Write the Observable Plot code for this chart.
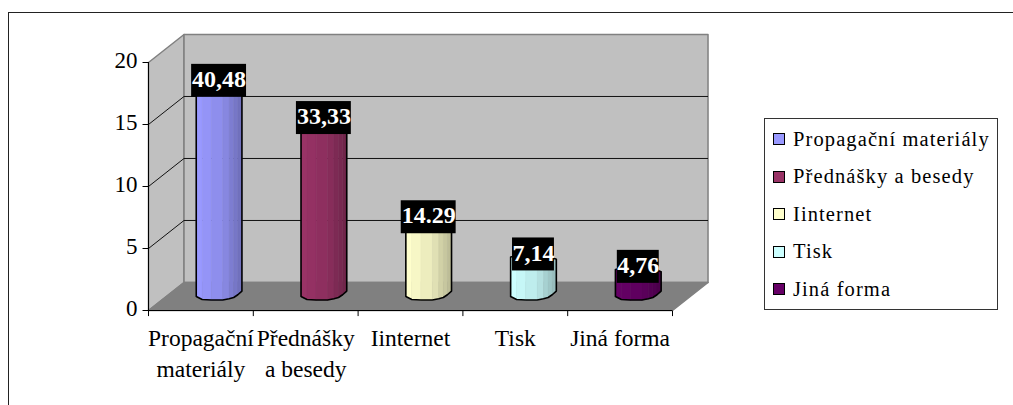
<!DOCTYPE html>
<html><head><meta charset="utf-8">
<script src="https://cdn.jsdelivr.net/npm/d3@7"></script>
<script src="https://cdn.jsdelivr.net/npm/@observablehq/plot@0.6"></script>
<style>
html,body{margin:0;padding:0;background:#fff}
#wrap{position:relative;width:1013px;height:405px;overflow:hidden;font-family:"Liberation Serif",serif}
#edge{position:absolute;left:8px;top:12px;right:0;bottom:0;border-top:1.5px solid #222;border-left:1.5px solid #222;box-sizing:border-box}
#legend{position:absolute;left:764px;top:118px;width:234px;height:192px;border:1px solid #333;box-sizing:border-box;background:#fff}
.row{position:absolute;left:8px;height:22px;display:flex;align-items:center;font-size:20.5px;letter-spacing:1.1px;color:#000;white-space:nowrap}
.sw{display:inline-block;width:10px;height:10px;border:1.5px solid #000;margin-right:8px}
svg{position:absolute;left:0;top:0;background:transparent!important}
</style></head><body>
<div id="wrap"><div id="edge"></div><div id="chart"></div><div id="legend"></div></div>
<script>
const categories = ["Propagační materiály","Přednášky a besedy","Iinternet","Tisk","Jiná forma"];
const axisLabels = ["Propagační\nmateriály","Přednášky\na besedy","Iinternet","Tisk","Jiná forma"];
const values = [17,14,6,3,2];
const valueLabels = ["40,48","33,33","14.29","7,14","4,76"];
const colors = ["#9999ff","#993366","#ffffcc","#ccffff","#660066"];
const yTicks = [0,5,10,15,20];
const grid = [5,10,15];

// Oblique projection of the box, in data units
const depthX = 0.339, depthY = 2.26;
const maxV = 20, n = 5;
const poly = (pts, id) => pts.map(([x,y]) => ({x,y,id}));
const backWall = poly([[depthX,depthY],[n+depthX,depthY],[n+depthX,maxV+depthY],[depthX,maxV+depthY],[depthX,depthY]],"b");
const sideWall = poly([[0,0],[depthX,depthY],[depthX,maxV+depthY],[0,maxV],[0,0]],"s");
const floor = poly([[0,0],[n,0],[n+depthX,depthY],[depthX,depthY],[0,0]],"f");

// Cylinder facets: across-width fraction, shade, and base curve
const facetU = [0,.13,.33,.58,.72,.82,.91,1];
const facetShade = [1,.97,.93,.88,.82,.78,.74];
const baseCurve = [.28,.04,0,0,.1,.2,.42,.72];
const halfW = 0.218, baseY = .85, topY = 1.42;
const shade = (c,k) => { const r = d3.rgb(c); return d3.rgb(r.r*k,r.g*k,r.b*k).formatHex(); };
const bars = values.map((v,i) => ({v,i,cx:i+.5+depthX/2+.004,c:colors[i],label:valueLabels[i]}));
const edgeX = (b,j) => b.cx-halfW+2*halfW*facetU[j];
const botAt = j => baseY+baseCurve[j];
const topAt = (b,j) => b.v+topY-baseCurve[j]*.4;
const facets = bars.flatMap(b => facetShade.flatMap((k,j) =>
  poly([[edgeX(b,j),botAt(j)],[edgeX(b,j+1),botAt(j+1)],[edgeX(b,j+1),topAt(b,j+1)],[edgeX(b,j),topAt(b,j)],[edgeX(b,j),botAt(j)]],`${b.i}-${j}`)
    .map(p=>({...p,fill:shade(b.c,k)}))));
const outlines = bars.flatMap(b => {
  const bot = facetU.map((u,j)=>[edgeX(b,j),botAt(j)]);
  const top = facetU.map((u,j)=>[edgeX(b,j),topAt(b,j)]).reverse();
  return poly([...bot,...top,bot[0]],`o${b.i}`);
});
// Label boxes (data units)
const boxes = bars.map(b => {
  const w = b.label.length===5 ? .262 : .2;
  const mid = b.v+1.52;
  return {x1:b.cx-w, x2:b.cx+w, y1:mid-1.33, y2:mid+1.33, mid, label:b.label, cx:b.cx};
});
const chart = Plot.plot({
  width:1013,height:405,
  marginLeft:148,marginRight:341,marginTop:62,marginBottom:95,
  x:{domain:[0,n],axis:null},
  y:{domain:[0,maxV],axis:null},
  style:{background:"transparent",fontFamily:"Liberation Serif, serif"},
  marks:[
    Plot.line(sideWall,{x:"x",y:"y",z:"id",fill:"#c0c0c0",stroke:"#808080",strokeWidth:1.5}),
    Plot.line(backWall,{x:"x",y:"y",z:"id",fill:"#c0c0c0",stroke:"#808080",strokeWidth:1.5}),
    Plot.line(floor,{x:"x",y:"y",z:"id",fill:"#808080",stroke:"#808080"}),
    Plot.link(grid,{x1:depthX,x2:n+depthX,y1:d=>d+depthY,y2:d=>d+depthY,stroke:"#111",strokeWidth:1}),
    Plot.link(grid,{x1:0,x2:depthX,y1:d=>d,y2:d=>d+depthY,stroke:"#111",strokeWidth:1}),
    Plot.ruleX([0],{y1:0,y2:maxV,stroke:"#000"}),
    Plot.ruleY([0],{x1:0,x2:n,stroke:"#000",strokeWidth:1.2}),
    Plot.link(yTicks,{x1:-.057,x2:0,y1:d=>d,y2:d=>d,stroke:"#000"}),
    Plot.axisY({ticks:yTicks,tickSize:0,tickPadding:11,dy:-1.5,fontSize:23,label:null,fill:"#000"}),
    Plot.link(d3.range(n+1),{x1:d=>d,x2:d=>d,y1:0,y2:-.45,stroke:"#000"}),
    Plot.line(facets,{x:"x",y:"y",z:"id",fill:"fill",stroke:"fill",strokeWidth:.5}),
    Plot.line(outlines,{x:"x",y:"y",z:"id",stroke:"#000",strokeWidth:1.6}),
    Plot.rect(boxes,{x1:"x1",x2:"x2",y1:"y1",y2:"y2",fill:"#000"}),
    Plot.text(boxes,{x:"cx",y:"mid",dy:-1.5,text:"label",fill:"#fff",fontWeight:"bold",fontSize:24}),
    Plot.text(axisLabels,{x:(d,i)=>i+.5,y:()=>0,dy:13,lineAnchor:"top",text:d=>d,fontSize:23.5,lineHeight:1.33,fill:"#000"})
  ]
});
document.getElementById("chart").append(chart);
const leg = document.getElementById("legend");
categories.forEach((c,i)=>{
  const r=document.createElement("div");r.className="row";r.style.top=(9+37.6*i)+"px";
  const s=document.createElement("span");s.className="sw";s.style.background=colors[i];
  r.append(s,document.createTextNode(c));leg.append(r);
});
</script></body></html>
